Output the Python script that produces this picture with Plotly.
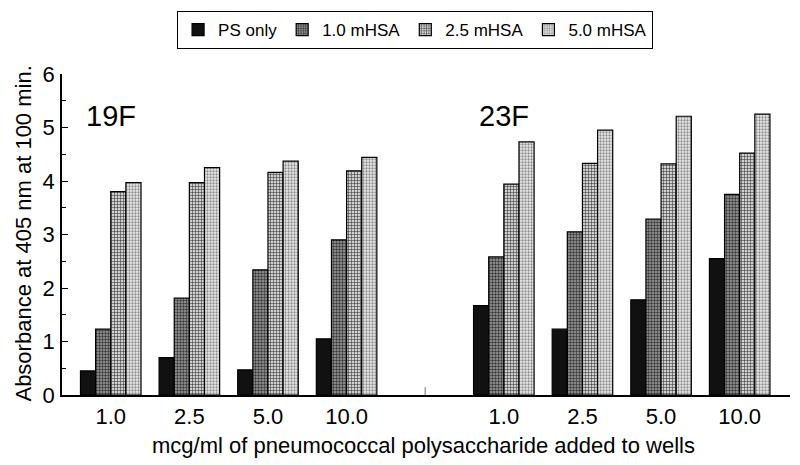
import plotly.graph_objects as go

# ---- data ----
concentrations = ["1.0", "2.5", "5.0", "10.0"]
serotypes = ["19F", "23F"]
series_names = ["PS only", "1.0 mHSA", "2.5 mHSA", "5.0 mHSA"]

ps_only_19F = [0.45, 0.70, 0.47, 1.05]
mhsa10_19F = [1.23, 1.81, 2.34, 2.90]
mhsa25_19F = [3.80, 3.97, 4.16, 4.19]
mhsa50_19F = [3.97, 4.25, 4.37, 4.44]

ps_only_23F = [1.67, 1.23, 1.78, 2.55]
mhsa10_23F = [2.58, 3.05, 3.29, 3.75]
mhsa25_23F = [3.94, 4.33, 4.32, 4.52]
mhsa50_23F = [4.73, 4.95, 5.21, 5.25]

y_ticks = [0, 1, 2, 3, 4, 5, 6]

# ---- category slots: 4 left, one empty slot, 4 right ----
left_slots = list(range(len(concentrations)))
gap_slot = len(concentrations)
right_slots = [gap_slot + 1 + i for i in range(len(concentrations))]
slots = left_slots + right_slots
tick_text = concentrations + concentrations

series_values = [
    ps_only_19F + ps_only_23F,
    mhsa10_19F + mhsa10_23F,
    mhsa25_19F + mhsa25_23F,
    mhsa50_19F + mhsa50_23F,
]

styles = [
    dict(color="#111111"),
    dict(color="#7f7f7f", pattern=dict(shape=".", bgcolor="#a0a0a0", fgcolor="#383838",
                                       size=3, solidity=0.5, fillmode="replace")),
    dict(color="#9a9a9a", pattern=dict(shape="+", bgcolor="#d0d0d0", fgcolor="#3c3c3c",
                                       size=3, solidity=0.35, fillmode="replace")),
    dict(color="#d0d0d0", pattern=dict(shape=".", bgcolor="#ededed", fgcolor="#8c8c8c",
                                       size=3, solidity=0.45, fillmode="replace")),
]

fig = go.Figure()
for name, vals, st in zip(series_names, series_values, styles):
    marker = dict(line=dict(color="black", width=1.2))
    marker.update(st)
    fig.add_trace(go.Bar(x=slots, y=vals, name=name, marker=marker))

font_family = "Liberation Sans, Arial, Helvetica, sans-serif"

fig.update_layout(
    width=800, height=465,
    margin=dict(l=62, r=10, t=74, b=70, autoexpand=False),
    paper_bgcolor="white", plot_bgcolor="white",
    barmode="group", bargap=0.23, bargroupgap=0,
    font=dict(family=font_family, color="black"),
    showlegend=True,
    legend=dict(
        orientation="h", x=0.485, xanchor="center", y=1.196, yanchor="top",
        bordercolor="black", borderwidth=1, bgcolor="white",
        font=dict(size=17, family=font_family), itemwidth=30,
        traceorder="normal",
    ),
    xaxis=dict(
        range=[-0.62, 8.64], tickmode="array", tickvals=slots, ticktext=tick_text,
        showline=True, linecolor="black", linewidth=1.5, ticks="",
        tickfont=dict(size=22), ticklabelstandoff=1, automargin=False,
        showgrid=False, zeroline=False,
    ),
    yaxis=dict(
        range=[0, 6], tickmode="array", tickvals=y_ticks,
        showline=True, linecolor="black", linewidth=1.5,
        ticks="inside", ticklen=6, tickcolor="black",
        minor=dict(ticks="inside", ticklen=4, dtick=0.5, tickcolor="black", showgrid=False),
        tickfont=dict(size=22), ticklabelstandoff=1, automargin=False,
        showgrid=False, zeroline=False,
    ),
)

# separator tick between the two serotype groups
fig.add_shape(type="line", xref="x", yref="paper", x0=gap_slot, x1=gap_slot,
              y0=0, y1=0.025, line=dict(color="#888888", width=1.2))

# serotype labels
fig.add_annotation(x=left_slots[0], y=5.21, xref="x", yref="y", text=serotypes[0],
                   showarrow=False, font=dict(size=29))
fig.add_annotation(x=right_slots[0], y=5.22, xref="x", yref="y", text=serotypes[1],
                   showarrow=False, font=dict(size=29))

# axis titles
fig.add_annotation(x=(423 - 62) / 728, y=-0.156, xref="paper", yref="paper",
                   text="mcg/ml of pneumococcal polysaccharide added to wells",
                   showarrow=False, yanchor="middle", xanchor="center",
                   font=dict(size=22))
fig.add_annotation(x=(24 - 62) / 728, y=0.503, xref="paper", yref="paper",
                   text="Absorbance at 405 nm at 100 min.", textangle=-90,
                   showarrow=False, yanchor="middle", xanchor="center",
                   font=dict(size=22))

fig.write_html("out.html", config={"displayModeBar": False},
               post_script="document.body.style.margin='0';")
